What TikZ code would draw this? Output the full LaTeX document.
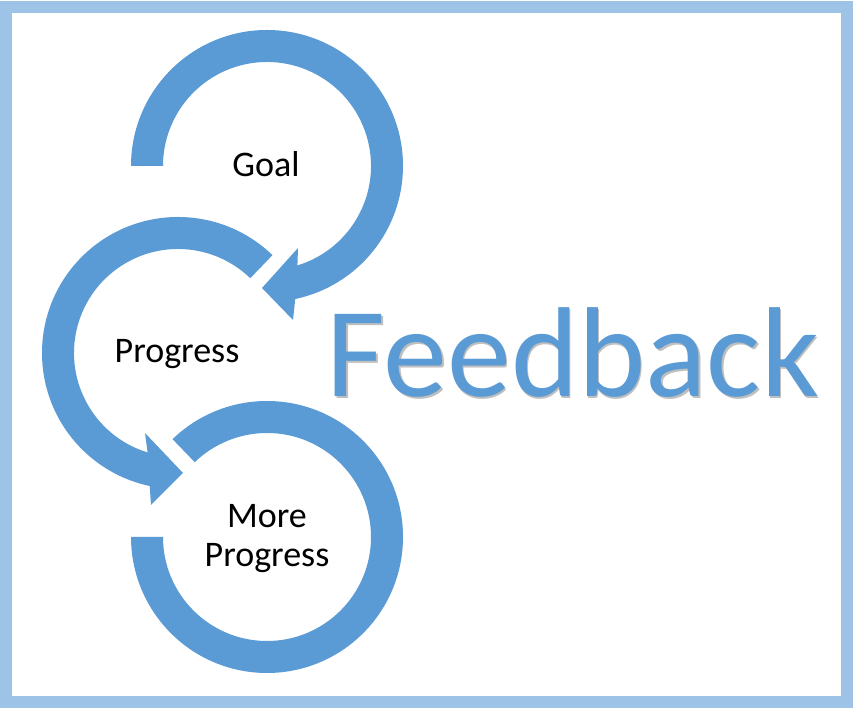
\documentclass[tikz,border=0pt]{standalone}
\usepackage{fontspec}
\setmainfont{Carlito}
\definecolor{ringblue}{HTML}{5B9BD5}
\definecolor{frameblue}{HTML}{9DC3E6}
\begin{document}
\begin{tikzpicture}[x=1pt,y=1pt,
  ring/.style={fill=ringblue,draw=none},
  label/.style={anchor=base,inner sep=0pt,align=center,text=black,font=\fontsize{36}{39}\selectfont}]
\useasboundingbox (0,0) rectangle (853,708);
\fill[white] (0,0) rectangle (853,708);
\draw[frameblue,line width=12pt] (6,6) rectangle (847,701);
% top ring (Goal)
\begin{scope}[shift={(267,542)}]
\fill[ring] (180:136pt) arc[start angle=180,end angle=-78,radius=136pt]
  -- (26,-154) -- (-5,-122) -- (31,-82) -- (-73:104pt)
  arc[start angle=-73,end angle=180,radius=104pt] -- cycle;
\end{scope}
% middle ring (Progress)
\begin{scope}[shift={(178,355)}]
\fill[ring] (46:136pt) arc[start angle=46,end angle=258,radius=136pt]
  -- (-27,-152) -- (5,-120) -- (-33,-80) -- (253:104pt)
  arc[start angle=253,end angle=46,radius=104pt] -- cycle;
\end{scope}
% bottom ring (More Progress)
\begin{scope}[shift={(267,171)}]
\fill[ring] (134:136pt) arc[start angle=134,end angle=-180,radius=136pt]
  -- (-180:104pt) arc[start angle=-180,end angle=134,radius=104pt] -- cycle;
\end{scope}
\node[label] (goal) at (266,531) {Goal};
\node[label] (progress) at (177,345) {Progress};
\node[label] (more) at (267,141) {More\\Progress};
\node[anchor=base,inner sep=0pt,text=black!25,font=\fontsize{128}{130}\selectfont] (feedbackshadow) at (574.5,309.5) {Feedback};
\node[anchor=base,inner sep=0pt,text=ringblue,font=\fontsize{128}{130}\selectfont] (feedback) at (573,311) {Feedback};
\end{tikzpicture}
\end{document}
